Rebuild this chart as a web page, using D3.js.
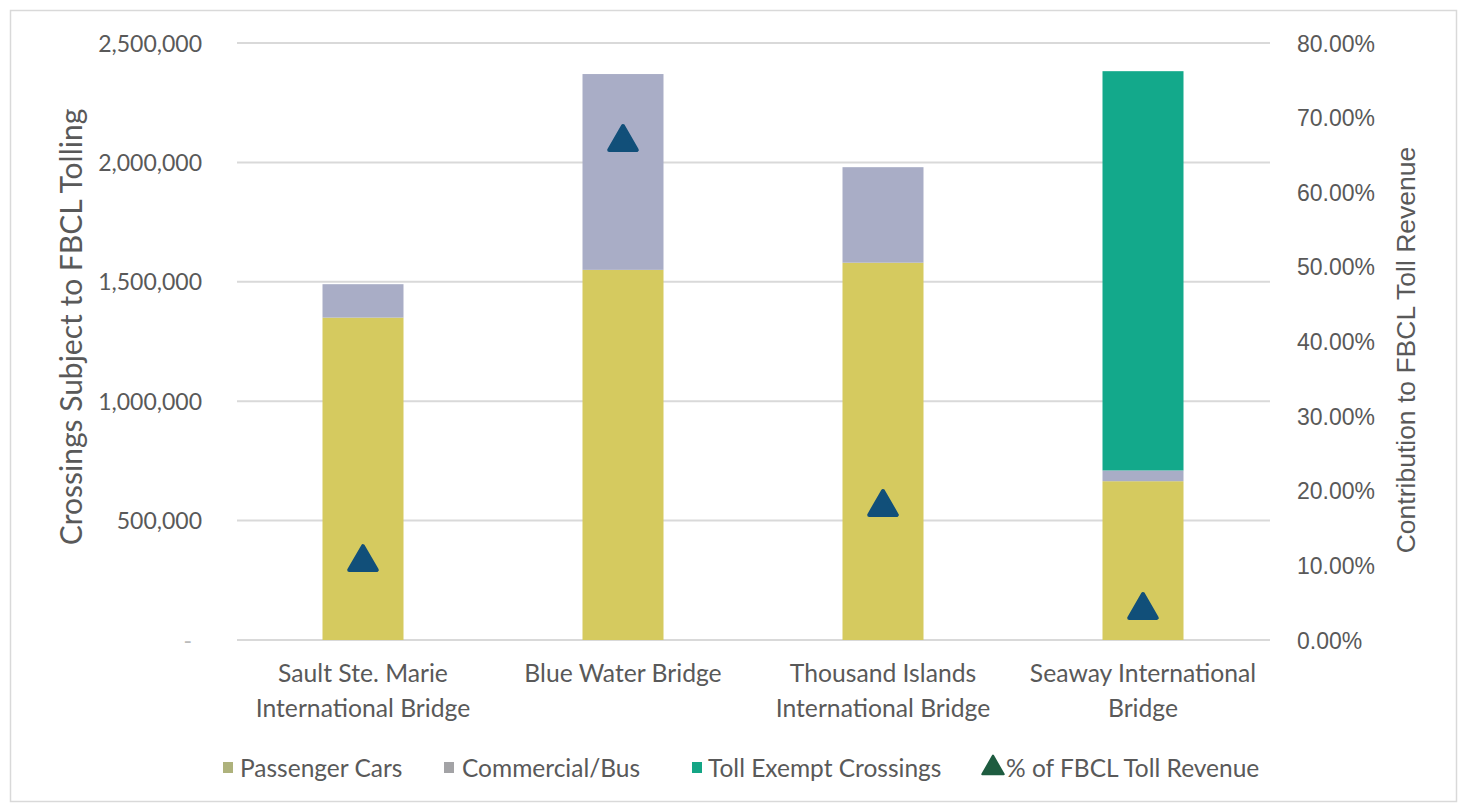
<!DOCTYPE html>
<html>
<head>
<meta charset="utf-8">
<script src="https://cdn.jsdelivr.net/npm/d3@7"></script>
<style>
  html, body { margin: 0; padding: 0; background: #ffffff; }
  svg { display: block; }
</style>
</head>
<body>
<svg id="chart" width="1464" height="805"></svg>
<script>
// ---------- data ----------
const categories = [
  ["Sault Ste. Marie", "International Bridge"],
  ["Blue Water Bridge"],
  ["Thousand Islands", "International Bridge"],
  ["Seaway International", "Bridge"]
];
const categoryKeys = ["Sault", "BlueWater", "ThousandIslands", "Seaway"];
const passengerCars = [1350000, 1550000, 1580000, 665000];
const commercialBus = [140000, 820000, 400000, 45000];
const tollExempt = [0, 0, 0, 1672000];
const revenueShare = [0.107, 0.670, 0.181, 0.043];
const leftTicks = [0, 500000, 1000000, 1500000, 2000000, 2500000];
const rightTicks = [0, 0.1, 0.2, 0.3, 0.4, 0.5, 0.6, 0.7, 0.8];
const seriesNames = ["Passenger Cars", "Commercial/Bus", "Toll Exempt Crossings", "% of FBCL Toll Revenue"];

// ---------- setup ----------
const svg = d3.select("#chart");
const plot = { left: 233, right: 1273, top: 43, bottom: 640 };
const colors = {
  pass: "#D5CA5F",
  comm: "#A9ADC6",
  exempt: "#13A98B",
  marker: "#114F79",
  grid: "#D9D9D9"
};
const leftFont = "Lato, 'Open Sans', sans-serif";
const rightFont = "'Liberation Sans', Arial, sans-serif";

// border
svg.append("rect")
  .attr("x", 10.5).attr("y", 10.5)
  .attr("width", 1446).attr("height", 791)
  .attr("fill", "#fff").attr("stroke", "#D9D9D9").attr("stroke-width", 1.5);

const x = d3.scaleBand().domain(categoryKeys).range([plot.left, plot.right]).padding(0);
const yL = d3.scaleLinear().domain([0, 2500000]).range([plot.bottom, plot.top]);
const yR = d3.scaleLinear().domain([0, 0.8]).range([plot.bottom, plot.top]);
const barW = 81;

// gridlines
svg.append("g").selectAll("line").data(leftTicks).join("line")
  .attr("x1", plot.left + 4).attr("x2", plot.right - 3)
  .attr("y1", d => yL(d)).attr("y2", d => yL(d))
  .attr("stroke", colors.grid).attr("stroke-width", 2);

// stacked bars
const rows = categoryKeys.map((k, i) => ({ key: k, pass: passengerCars[i], comm: commercialBus[i], exempt: tollExempt[i] }));
const stack = d3.stack().keys(["pass", "comm", "exempt"])(rows);
svg.append("g").selectAll("g").data(stack).join("g")
  .attr("fill", d => colors[d.key])
  .selectAll("rect").data(d => d).join("rect")
  .attr("x", d => x(d.data.key) + x.bandwidth() / 2 - barW / 2)
  .attr("width", barW)
  .attr("y", d => yL(d[1]))
  .attr("height", d => Math.max(0, yL(d[0]) - yL(d[1])));

// markers
const tri = d3.symbol().type(d3.symbolTriangle).size(330);
svg.append("g").selectAll("path").data(revenueShare).join("path")
  .attr("d", tri)
  .attr("transform", (d, i) => `translate(${x(categoryKeys[i]) + x.bandwidth() / 2},${yR(d) + 2})`)
  .attr("fill", colors.marker)
  .attr("stroke", colors.marker).attr("stroke-width", 4).attr("stroke-linejoin", "round");

// left axis
const axL = d3.axisLeft(yL).tickValues(leftTicks).tickSize(0).tickPadding(0)
  .tickFormat(d => d === 0 ? "-" : d3.format(",")(d));
const gL = svg.append("g").attr("transform", "translate(202,0)").call(axL);
gL.select(".domain").remove();
gL.selectAll("text").attr("font-family", leftFont).attr("font-size", 23).attr("fill", "#595959")
  .attr("dy", "0.35em");
gL.selectAll(".tick").filter(d => d === 0).select("text").attr("dx", -10).attr("fill", "#bbbbbb");

// right axis
const axR = d3.axisRight(yR).tickValues(rightTicks).tickSize(0).tickPadding(0)
  .tickFormat(d3.format(".2%"));
const gR = svg.append("g").attr("transform", "translate(1297,0)").call(axR);
gR.select(".domain").remove();
gR.selectAll("text").attr("font-family", rightFont).attr("font-size", 23).attr("fill", "#595959")
  .attr("dy", "0.35em");

// axis titles
svg.append("text")
  .attr("transform", "translate(70,327) rotate(-90)")
  .attr("text-anchor", "middle").attr("dominant-baseline", "central")
  .attr("font-family", leftFont).attr("font-size", 30).attr("fill", "#595959")
  .text("Crossings Subject to FBCL Tolling");
svg.append("text")
  .attr("transform", "translate(1406,350) rotate(-90)")
  .attr("text-anchor", "middle").attr("dominant-baseline", "central")
  .attr("font-family", rightFont).attr("font-size", 26.5).attr("fill", "#595959")
  .text("Contribution to FBCL Toll Revenue");

// category labels
const catG = svg.append("g").selectAll("text").data(categories).join("text")
  .attr("x", (d, i) => x(categoryKeys[i]) + x.bandwidth() / 2)
  .attr("y", 672)
  .attr("text-anchor", "middle").attr("dominant-baseline", "central")
  .attr("font-family", leftFont).attr("font-size", 24.7).attr("fill", "#595959");
catG.selectAll("tspan").data(d => d).join("tspan")
  .attr("x", function () { return this.parentNode.getAttribute("x"); })
  .attr("dy", (d, i) => i === 0 ? 0 : 35)
  .text(d => d);

// legend
const legendItems = [
  { name: seriesNames[0], type: "rect", color: "#AEB27C", sx: 228, tx: 240 },
  { name: seriesNames[1], type: "rect", color: "#A3A3A6", sx: 449, tx: 462 },
  { name: seriesNames[2], type: "rect", color: "#14A585", sx: 697, tx: 708 },
  { name: seriesNames[3], type: "tri", color: "#1E5C40", sx: 993, tx: 1006 }
];
const lg = svg.append("g");
legendItems.forEach(it => {
  if (it.type === "rect") {
    lg.append("rect").attr("x", it.sx - 5).attr("y", 762).attr("width", 10).attr("height", 11).attr("fill", it.color);
  } else {
    lg.append("path").attr("d", d3.symbol().type(d3.symbolTriangle).size(200)())
      .attr("transform", `translate(${it.sx},${768})`).attr("fill", it.color)
      .attr("stroke", it.color).attr("stroke-width", 2).attr("stroke-linejoin", "round");
  }
  lg.append("text").attr("x", it.tx).attr("y", 767).attr("dominant-baseline", "central")
    .attr("font-family", leftFont).attr("font-size", 24.5).attr("fill", "#595959").text(it.name);
});
</script>
</body>
</html>
